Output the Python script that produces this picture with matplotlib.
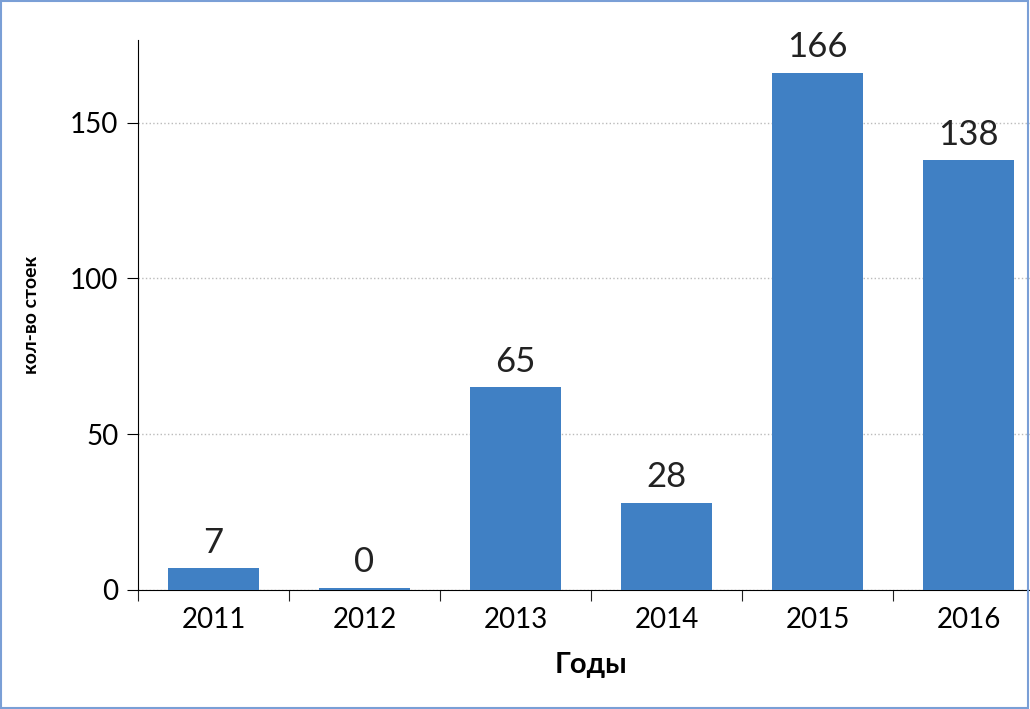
import matplotlib
matplotlib.use("Agg")
import matplotlib.pyplot as plt
from matplotlib.patches import Rectangle

years = ["2011", "2012", "2013", "2014", "2015", "2016"]
values = [7, 0, 65, 28, 166, 138]

plt.rcParams['font.family'] = ['Lato', 'DejaVu Sans']
fig = plt.figure(figsize=(10.3, 7.09), dpi=100)
ax = fig.add_axes([138/1030, 119/709, 906/1030, 550/709])
x = range(len(years))
heights = [v if v > 0 else 0.8 for v in values]
ax.bar(x, heights, width=0.6, color='#4080c4', zorder=3)
for i, v in enumerate(values):
    ax.text(i, heights[i] + 3, str(v), ha='center', va='bottom', fontsize=25, color='#222222')
ax.set_xlim(-0.5, 5.5)
ax.set_ylim(0, 176.5)
ax.set_yticks([0, 50, 100, 150])
ax.set_xticks([i - 0.5 for i in range(7)])
ax.set_xticklabels([])
ax.set_xticks(list(x), minor=True)
ax.set_xticklabels(years, minor=True)
ax.tick_params(axis='x', which='major', length=8, direction='out', color='#222222')
ax.tick_params(axis='x', which='minor', length=0, labelsize=20, pad=12)
ax.tick_params(axis='y', length=8, direction='out', labelsize=20, pad=6)
ax.grid(axis='y', linestyle=':', color='#bbbbbb', lw=1, zorder=0)
for s in ['top', 'right']:
    ax.spines[s].set_visible(False)
ax.set_xlabel('Годы', fontsize=21, fontweight='bold', labelpad=14)
ax.set_ylabel('кол-во стоек', fontsize=14, fontweight='bold', labelpad=22)
fig.patches.append(Rectangle((0.001, 0.002), 0.997, 0.996, transform=fig.transFigure,
                             fill=False, edgecolor='#7a9fd6', lw=1.5))
fig.savefig('out.png', dpi=100)
